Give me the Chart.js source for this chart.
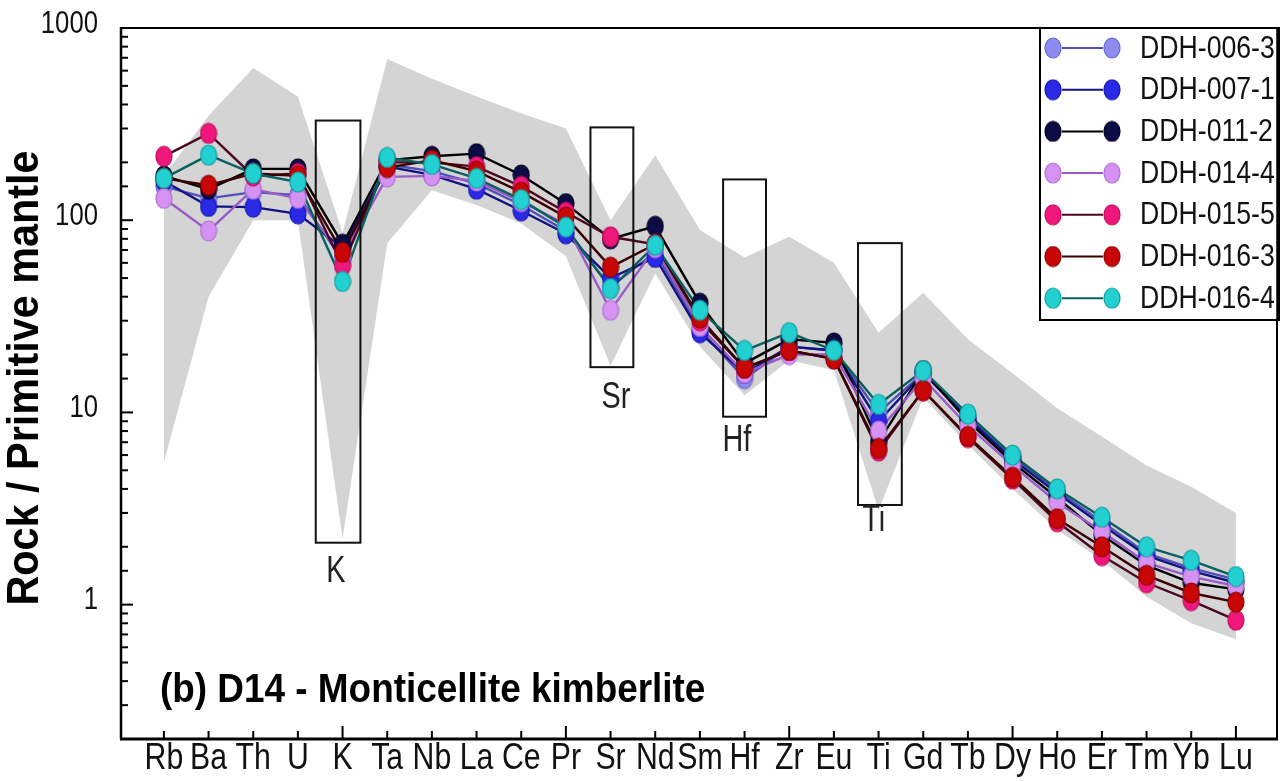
<!DOCTYPE html>
<html><head><meta charset="utf-8">
<script src="https://cdn.jsdelivr.net/npm/chart.js@4.4.1/dist/chart.umd.min.js"></script>
<style>html,body{margin:0;padding:0;background:#fff;}canvas{display:block;}</style>
</head><body>
<canvas id="c" width="1288" height="781"></canvas>
<script>
const categories = ['Rb','Ba','Th','U','K','Ta','Nb','La','Ce','Pr','Sr','Nd','Sm','Hf','Zr','Eu','Ti','Gd','Tb','Dy','Ho','Er','Tm','Yb','Lu'];
const seriesNames = ['DDH-006-3','DDH-007-1','DDH-011-2','DDH-014-4','DDH-015-5','DDH-016-3','DDH-016-4'];
const ddh0063 = [150,130,140,135,62,195,180,155,120,88,45,68,27,15,22,21,10,16,9.5,5.9,3.9,2.7,1.85,1.55,1.35];
const ddh0071 = [160,118,117,108,72,190,172,145,112,85,50,64,26,16,22,21,9,16,9.3,5.7,3.8,2.6,1.8,1.5,1.3];
const ddh0112 = [170,145,185,185,75,205,215,222,172,122,80,93,37,18,24,23,7,16.5,9,5.5,3.6,2.3,1.6,1.3,1.2];
const ddh0144 = [130,88,145,130,65,168,170,160,125,95,34,72,28,16,20,20,8,15,8.5,5.3,3.4,2.4,1.65,1.4,1.25];
const ddh0155 = [215,283,170,175,58,200,200,190,150,110,82,75,30,17,21,19,6.3,13,7.4,4.5,2.7,1.8,1.3,1.05,0.83];
const ddh0163 = [165,152,175,170,68,188,205,180,140,104,57,75,31,17,21,19,6.5,13,7.5,4.6,2.8,2.0,1.42,1.15,1.03];
const ddh0164 = [165,218,175,158,48,212,195,165,128,92,44,74,34,21,26,21,11,16.5,9.8,6.0,4.0,2.85,2.0,1.7,1.4];
const bandUpper = [170,350,620,440,86,690,545,440,360,300,100,218,89,64,82,60,26,42,24,16,10.5,7.5,5.3,4.1,3.0];
const bandLower = [5.5,40,100,100,2.2,76,143,120,96,65,17.5,53,22,12.3,18.7,16.6,3.1,12,6.8,4.0,2.45,1.7,1.1,0.8,0.66];
const yTickLabels = [1,10,100,1000];
const anomalyLabels = ['K','Sr','Hf','Ti'];
const titleText = '(b) D14 - Monticellite kimberlite';
const yTitle = 'Rock / Primitive mantle';

const allSeries = [ddh0063,ddh0071,ddh0112,ddh0144,ddh0155,ddh0163,ddh0164];
const fillColors = ['#8c8cf0','#2a2ae6','#0b0b45','#d692f2','#f0177c','#c80606','#22d0d2'];
const edgeColors = ['#6a6ad0','#1515b0','#000020','#b070d8','#c00c5c','#900000','#10a0a0'];
const lineColors = ['#5050b8','#121280','#000000','#9a5ac8','#4a0820','#3a0000','#0a6060'];

const FONT = "'Liberation Sans',Arial,Helvetica,sans-serif";

function markerImage(fill, edge){
  const w = 18, h = 22;
  const c = document.createElement('canvas');
  c.width = w; c.height = h;
  const g = c.getContext('2d');
  g.beginPath();
  g.ellipse(w/2, h/2, w/2-1, h/2-1, 0, 0, Math.PI*2);
  g.fillStyle = fill; g.fill();
  g.lineWidth = 1.2; g.strokeStyle = edge; g.stroke();
  return c;
}
const markers = fillColors.map((f,i)=>markerImage(f, edgeColors[i]));

const pts = arr => arr.map((v,i)=>({x:i+1, y:v}));

const datasets = [
  {label:'bandUpper', data:pts(bandUpper), borderWidth:0, pointRadius:0, backgroundColor:'#d4d4d4', fill:'+1', order:200, tension:0},
  {label:'bandLower', data:pts(bandLower), borderWidth:0, pointRadius:0, backgroundColor:'#d4d4d4', fill:false, order:201, tension:0}
];
allSeries.forEach((s,i)=>{
  datasets.push({label:seriesNames[i]+' line', data:pts(s), borderColor:lineColors[i], borderWidth:2.4, pointRadius:0, fill:false, order:100-i, tension:0});
});
allSeries.forEach((s,i)=>{
  datasets.push({label:seriesNames[i], data:pts(s), showLine:false, pointStyle:markers[i], pointRadius:10, order:10-i});
});

const boxSpec = [
  {x0:4.40, x1:5.40, y0:2.1, y1:330, lx:4.85, ly:1.48},
  {x0:10.55, x1:11.51, y0:17.2, y1:304, lx:11.12, ly:11.9},
  {x0:13.52, x1:14.48, y0:9.5, y1:163, lx:13.83, ly:7.1},
  {x0:16.54, x1:17.52, y0:3.3, y1:76, lx:16.89, ly:2.73}
];

function txt(ctx, s, x, y, size, bold, align, sx, color){
  ctx.save();
  ctx.translate(x, y);
  ctx.scale(sx, 1);
  ctx.font = (bold ? 'bold ' : '') + size + 'px ' + FONT;
  ctx.textAlign = align; ctx.textBaseline = 'middle';
  ctx.fillStyle = color || '#000';
  ctx.fillText(s, 0, 0);
  ctx.restore();
}

const decor = {
  id:'decor',
  afterDatasetsDraw(chart){
    const {ctx, chartArea:a, scales:{x, y}} = chart;
    ctx.save();
    // boxes
    ctx.strokeStyle = '#111'; ctx.lineWidth = 2;
    boxSpec.forEach((b,i)=>{
      const px0 = x.getPixelForValue(b.x0), px1 = x.getPixelForValue(b.x1);
      const py0 = y.getPixelForValue(b.y0), py1 = y.getPixelForValue(b.y1);
      ctx.strokeRect(px0, py1, px1-px0, py0-py1);
      txt(ctx, anomalyLabels[i], x.getPixelForValue(b.lx), y.getPixelForValue(b.ly), 36, false, 'center', 0.8, '#222');
    });
    // frame
    ctx.strokeStyle = '#000';
    ctx.lineWidth = 2;
    ctx.beginPath();
    ctx.moveTo(a.left, a.top); ctx.lineTo(a.right, a.top); ctx.lineTo(a.right, a.bottom);
    ctx.stroke();
    ctx.lineWidth = 2.5;
    ctx.beginPath(); ctx.moveTo(a.left, a.top-1); ctx.lineTo(a.left, a.bottom); ctx.stroke();
    ctx.lineWidth = 3;
    ctx.beginPath(); ctx.moveTo(a.left-1, a.bottom); ctx.lineTo(a.right+1, a.bottom); ctx.stroke();
    // inward y ticks + labels
    ctx.lineWidth = 2;
    y.ticks.forEach(t=>{
      const lg = Math.log10(t.value);
      const major = Math.abs(lg - Math.round(lg)) < 1e-6;
      const py = y.getPixelForValue(t.value);
      ctx.beginPath(); ctx.moveTo(a.left, py); ctx.lineTo(a.left + (major?12:7), py); ctx.stroke();
      if (yTickLabels.some(v=>Math.abs(v - t.value) < 1e-9*v)) {
        txt(ctx, String(t.value), 98, py - 4, 31, false, 'right', 0.83, '#111');
      }
    });
    // inward x ticks + labels
    x.ticks.forEach(t=>{
      const major = Math.round(t.value) % 5 === 0;
      const px = x.getPixelForValue(t.value);
      ctx.beginPath(); ctx.moveTo(px, a.bottom); ctx.lineTo(px, a.bottom - (major?13:8)); ctx.stroke();
      const lab = categories[Math.round(t.value)-1];
      if (lab) txt(ctx, lab, px, 759, 36, false, 'center', 0.84, '#111');
    });
    // title
    txt(ctx, titleText, 160, 691, 41, true, 'left', 0.9, '#000');
    // y title
    ctx.save();
    ctx.translate(26, 378); ctx.rotate(-Math.PI/2);
    txt(ctx, yTitle, 0, 0, 44, true, 'center', 0.94, '#000');
    ctx.restore();
    // legend
    const L = 1040, R = 1279, T = 28, B = 320;
    ctx.fillStyle = '#fff';
    ctx.fillRect(L, T, R-L, B-T);
    ctx.strokeStyle = '#000'; ctx.lineWidth = 2;
    ctx.strokeRect(L, T, R-L, B-T);
    ctx.lineWidth = 3.5;
    ctx.beginPath(); ctx.moveTo(R-1, T); ctx.lineTo(R-1, B+1); ctx.stroke();
    seriesNames.forEach((n,i)=>{
      const ry = 48 + i*41.7;
      ctx.strokeStyle = lineColors[i]; ctx.lineWidth = 2;
      ctx.beginPath(); ctx.moveTo(1062, ry); ctx.lineTo(1103, ry); ctx.stroke();
      const m = markers[i];
      ctx.drawImage(m, 1053 - m.width/2, ry - m.height/2);
      ctx.drawImage(m, 1112 - m.width/2, ry - m.height/2);
      txt(ctx, n, 1140, ry + 1, 31, false, 'left', 0.86, '#111');
    });
    ctx.restore();
  }
};

new Chart(document.getElementById('c').getContext('2d'), {
  type:'line',
  data:{datasets},
  options:{
    responsive:false, animation:false, devicePixelRatio:1,
    layout:{padding:{top:28, right:9, left:0, bottom:0}},
    plugins:{legend:{display:false}, tooltip:{enabled:false}},
    scales:{
      x:{type:'linear', min:0.04, max:25.92,
        grid:{display:false, drawTicks:false}, border:{display:false},
        afterBuildTicks:s=>{ s.ticks = categories.map((c,i)=>({value:i+1})); },
        ticks:{display:false, autoSkip:false, maxRotation:0, minRotation:0},
        afterFit:s=>{ s.height = 42; }
      },
      y:{type:'logarithmic', min:0.2, max:1000,
        grid:{display:false, drawTicks:false}, border:{display:false},
        ticks:{display:false, autoSkip:false},
        afterFit:s=>{ s.width = 121; }
      }
    }
  },
  plugins:[decor]
});
</script>
</body></html>
